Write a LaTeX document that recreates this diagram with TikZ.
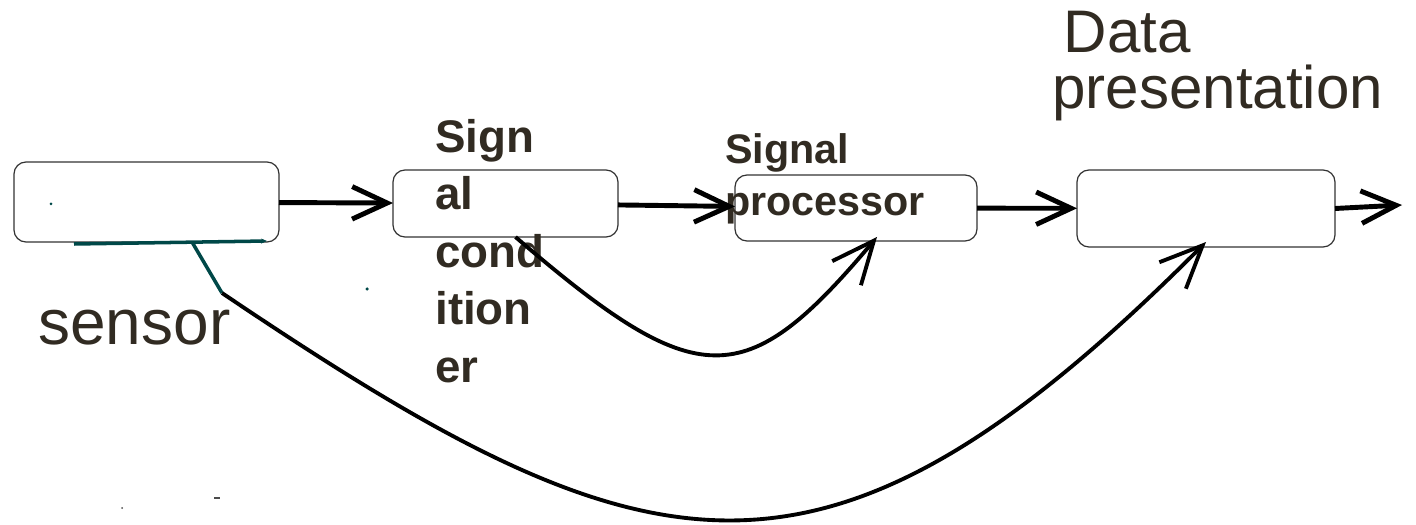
\documentclass[tikz,border=0pt]{standalone}
\usepackage{fontspec}
\setmainfont{Liberation Sans}
\usetikzlibrary{arrows.meta}

\definecolor{inkgray}{RGB}{49,43,34}
\definecolor{tealwire}{RGB}{0,72,72}

\begin{document}
\begin{tikzpicture}[x=0.2mm, y=-0.2mm,
      block/.style={draw=black!80, line width=0.7pt, rounded corners=2.4mm, inner sep=0pt, outer sep=0pt},
      flow/.style={line width=2.8pt, -{Straight Barb[length=7mm, width=6.5mm]}},
      bypass/.style={line width=2.2pt, -{Straight Barb[length=8.5mm, width=7.5mm]}},
      wire/.style={draw=tealwire, line width=2pt},
      heading/.style={text=inkgray, inner sep=0pt, align=left},
      boldtag/.style={text=inkgray, inner sep=0pt, align=left, font=\bfseries}
    ]
    \useasboundingbox (0,0) rectangle (1416,525);

    % Blocks
    \node[block, minimum width=53mm, minimum height=16mm] (sens) at (146.5,202) {};
    \node[block, minimum width=45mm, minimum height=13.4mm] (cond) at (505.5,203.5) {};
    \node[block, minimum width=48.4mm, minimum height=13.2mm] (proc) at (856,208) {};
    \node[block, minimum width=51.6mm, minimum height=15.4mm] (disp) at (1206,208.5) {};

    % Labels
    \node[heading, font=\fontsize{36.4}{44}\selectfont, anchor=base west] (senslbl) at (38,345) {sensor};
    \node[boldtag, font=\bfseries\fontsize{26}{32.7}\selectfont, anchor=north west] (condlbl) at (435,119) {Sign\\al\\cond\\ition\\er};
    \node[boldtag, font=\bfseries\fontsize{23.5}{29.6}\selectfont, anchor=north west] (proclbl) at (725,133) {Signal\\processor};
    \node[heading, font=\fontsize{34.2}{31.8}\selectfont, anchor=north west] (displbl) at (1052,11) {\hspace*{2.3mm}Data\\presentation};

    % Main chain
    \coordinate (out) at (1402,205);
    \draw[flow] (sens) -- (cond);
    \draw[flow] (cond) -- (proc);
    \draw[flow] (proc) -- (disp);
    \draw[flow] (disp.east) -- (out);

    % Conditioner straight to processor
    \draw[bypass] ([xshift=2mm]cond.south) .. controls (698,394) and (745,394) .. ([xshift=4.2mm, yshift=0.8mm]proc.south);

    % Sensor tap and long path to presentation
    \coordinate (tap) at ([xshift=9.1mm]sens.south);
    \coordinate (kink) at (222,293);
    \coordinate (ul) at (74,244);
    \coordinate (ur) at (267,241);
    \draw[wire, -{Stealth[length=1.2mm, width=1mm]}] (ul) -- (ur);
    \draw[wire] (tap) -- (kink);
    \draw[bypass] (kink) .. controls (649,581) and (822,627) .. ([yshift=1mm]disp.south);

    % stray specks
    \fill[tealwire] (51,204) circle (0.3mm);
    \fill[tealwire] (367,289) circle (0.35mm);
    \fill[black!70] (214,497) rectangle (220,499);
    \fill[black!70] (122,508) circle (0.2mm);
  \end{tikzpicture}
\end{document}
